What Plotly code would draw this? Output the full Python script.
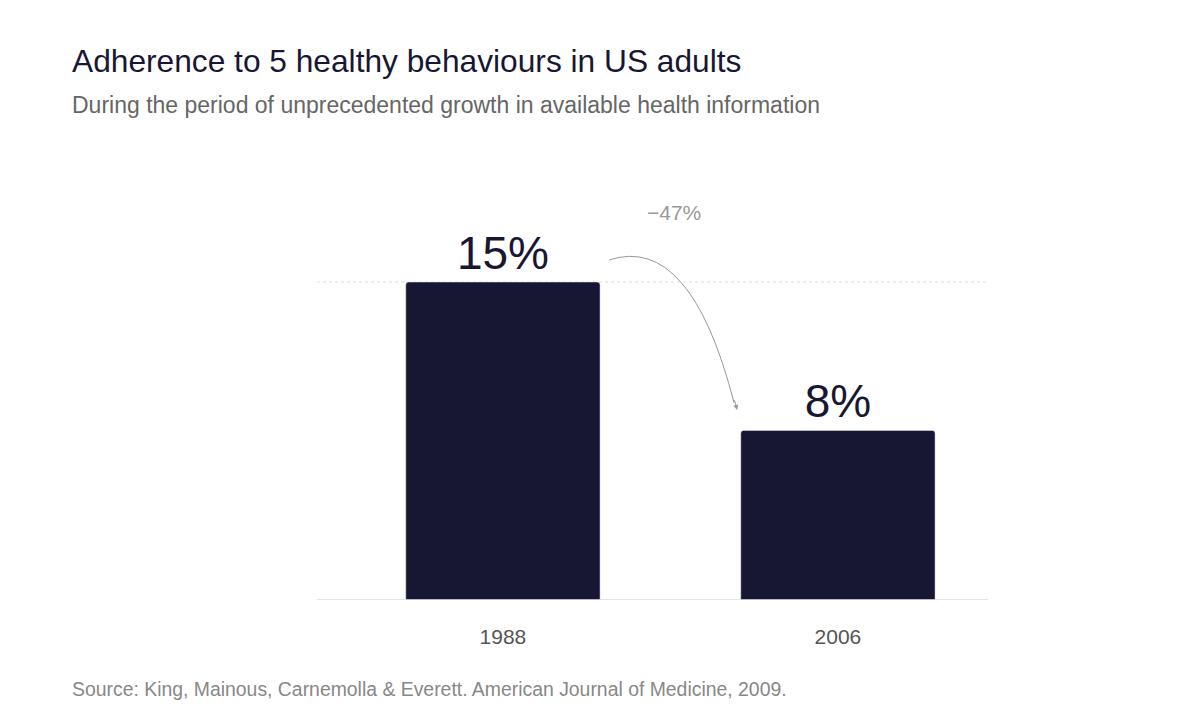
import plotly.graph_objects as go

years = ["1988", "2006"]
values = [15, 8]
labels = ["15%", "8%"]
change_label = "−47%"

F = "Liberation Sans, Arial, sans-serif"
fig = go.Figure(go.Bar(x=[0, 1], y=values, width=0.58, marker=dict(color="#181733", cornerradius=3),
                       text=labels, textposition="outside", textfont=dict(size=46, color="#181733", family=F),
                       cliponaxis=False, hoverinfo="skip"))
fig.update_layout(
    width=1200, height=724, paper_bgcolor="white", plot_bgcolor="white",
    margin=dict(l=309, r=220, t=168, b=132), showlegend=False, font=dict(family=F),
    xaxis=dict(range=[-0.555, 1.448], tickvals=[0, 1], ticktext=years, showgrid=False, zeroline=False,
               tickfont=dict(size=21, color="#555"), ticks="", ticklabelstandoff=22),
    yaxis=dict(range=[0, 20], visible=False),
    shapes=[
        dict(type="line", xref="paper", x0=0, x1=1, y0=15, y1=15, line=dict(color="#ddd", width=1, dash="dot"), layer="below"),
        dict(type="line", xref="paper", x0=0, x1=1, y0=0, y1=0, line=dict(color="#ddd", width=1.5)),
        dict(type="path", path="M 0.317 16.04 Q 0.56 17.3 0.69 9.3", line=dict(color="#999", width=1)),
    ],
    annotations=[
        dict(x=0.699, y=8.96, ax=0.69, ay=9.5, axref="x", ayref="y", text="", showarrow=True,
             arrowhead=2, arrowsize=1, arrowwidth=1, arrowcolor="#999"),
        dict(x=0.511, y=18.3, text=change_label, showarrow=False, font=dict(size=21, color="#999")),
    ],
)
fig.add_annotation(xref="paper", yref="paper", x=-0.368, y=1.318, xanchor="left", yanchor="top",
                   text="Adherence to 5 healthy behaviours in US adults", showarrow=False,
                   font=dict(size=31.7, color="#181733"))
fig.add_annotation(xref="paper", yref="paper", x=-0.368, y=1.203, xanchor="left", yanchor="top",
                   text="During the period of unprecedented growth in available health information", showarrow=False,
                   font=dict(size=23, color="#666"))
fig.add_annotation(xref="paper", yref="paper", x=-0.368, y=-0.179, xanchor="left", yanchor="top",
                   text="Source: King, Mainous, Carnemolla & Everett. American Journal of Medicine, 2009.", showarrow=False,
                   font=dict(size=19.4, color="#888"))
fig.write_html("out.html")
